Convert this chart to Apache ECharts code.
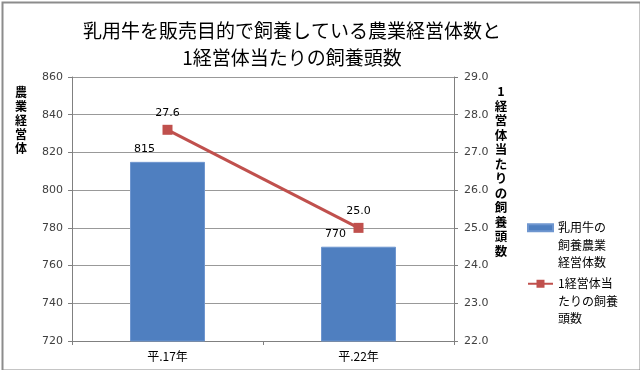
<!DOCTYPE html>
<html><head><meta charset="utf-8">
<script src="https://cdn.jsdelivr.net/npm/echarts@6/dist/echarts.min.js"></script>
<style>html,body{margin:0;padding:0;background:#fff}#c{width:640px;height:370px;}</style>
</head><body><div id="c"></div>
<script>
var categories = ['平.17年', '平.22年'];
var farms = [815, 770];
var headPerFarm = [27.6, 25.0];
var seriesNames = ['乳用牛の飼養農業経営体数', '1経営体当たりの飼養頭数'];
var legendLabels = ['乳用牛の\n飼養農業\n経営体数', '1経営体当\nたりの飼養\n頭数'];
var titleText = '乳用牛を販売目的で飼養している農業経営体数と\n1経営体当たりの飼養頭数';
var leftAxisName = '農業経営体';
var rightAxisName = '1経営体当たりの飼養頭数';

var FONT = '"Noto Sans CJK JP", "DejaVu Sans", sans-serif';
var NUMFONT = '"DejaVu Sans", sans-serif';
var chart = echarts.init(document.getElementById('c'), null, {renderer: 'canvas'});
function vert(s){ return s.split('').join('\n'); }
// leading blank lines keep the legend icon level with the first text line
function legendFmt(i){ return function(){ return '\n\n' + legendLabels[i]; }; }
var legendText = {fontFamily: FONT, fontSize: 12, color: '#000', lineHeight: 17.5};
chart.setOption({
  animation: false,
  backgroundColor: '#fff',
  textStyle: {fontFamily: FONT},
  title: {
    text: titleText, left: 287, top: 12, textAlign: 'center',
    textStyle: {fontFamily: FONT, fontSize: 19, fontWeight: 'normal', color: '#000', lineHeight: 27}
  },
  grid: {left: 72, right: 186, top: 77, bottom: 29, containLabel: false},
  legend: [{
    data: [{name: seriesNames[0], icon: 'rect'}], orient: 'vertical', left: 527, top: 184, padding: 0,
    itemWidth: 25, itemHeight: 7,
    formatter: legendFmt(0), textStyle: legendText
  },{
    data: [seriesNames[1]], orient: 'vertical', left: 527, top: 240, padding: 0,
    itemWidth: 25, itemHeight: 10,
    formatter: legendFmt(1), textStyle: legendText
  }],
  graphic: [
    {type: 'rect', left: 0, top: 0, shape: {width: 638, height: 368}, style: {fill: 'none', stroke: '#8c8c8c', lineWidth: 2}, silent: true, z: 100},
    {type: 'text', x: 21, y: 85, style: {text: vert(leftAxisName), font: 'bold 12px ' + FONT, fill: '#000', lineHeight: 14, align: 'center', verticalAlign: 'top'}},
    {type: 'text', x: 501, y: 84, style: {text: vert(rightAxisName), font: 'bold 12.5px ' + FONT, fill: '#000', lineHeight: 14.5, align: 'center', verticalAlign: 'top'}}
  ],
  xAxis: {
    type: 'category', data: categories,
    axisLine: {lineStyle: {color: '#808080', width: 1}},
    axisTick: {show: true, length: 4, lineStyle: {color: '#808080'}},
    axisLabel: {color: '#000', fontSize: 12, margin: 9, fontFamily: FONT}
  },
  yAxis: [{
    type: 'value', min: 720, max: 860, interval: 20,
    axisLine: {show: true, lineStyle: {color: '#808080'}},
    axisTick: {show: true, length: 4, lineStyle: {color: '#808080'}},
    axisLabel: {color: '#404040', fontSize: 11, margin: 9, fontFamily: NUMFONT},
    splitLine: {lineStyle: {color: '#999999', width: 1}}
  },{
    type: 'value', min: 22, max: 29, interval: 1, position: 'right',
    axisLine: {show: true, lineStyle: {color: '#808080'}},
    axisTick: {show: true, length: 4, lineStyle: {color: '#808080'}},
    axisLabel: {color: '#404040', fontSize: 11, margin: 10, fontFamily: NUMFONT,
      formatter: function(v){ return v.toFixed(1); }},
    splitLine: {show: false}
  }],
  series: [{
    name: seriesNames[0], type: 'bar', data: farms, barWidth: 75,
    itemStyle: {color: '#4f7fc0', borderColor: '#6f96cf', borderWidth: 1},
    label: {show: true, position: 'top', offset: [-23, 0], color: '#000', fontSize: 11, fontFamily: NUMFONT, distance: 7}
  },{
    name: seriesNames[1], type: 'line', yAxisIndex: 1, data: headPerFarm,
    symbol: 'rect', symbolSize: 10,
    lineStyle: {color: '#c0504d', width: 3},
    itemStyle: {color: '#c0504d'},
    label: {show: true, position: 'top', distance: 6, color: '#000', fontSize: 11, fontFamily: NUMFONT,
      formatter: function(p){ return p.value.toFixed(1); }}
  }]
});
</script></body></html>
